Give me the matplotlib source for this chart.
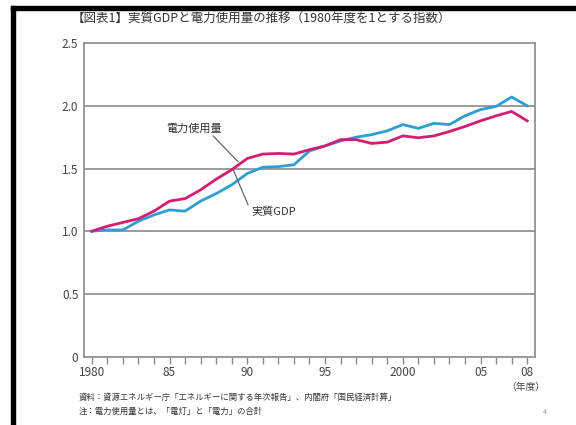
import matplotlib
matplotlib.use("Agg")
import matplotlib.pyplot as plt
from matplotlib.patches import Rectangle

plt.rcParams['font.family'] = ['Noto Sans CJK JP', 'DejaVu Sans']

years = list(range(1980, 2009))
power = [1.00, 1.04, 1.07, 1.10, 1.16, 1.24, 1.26, 1.33, 1.415, 1.49,
         1.58, 1.615, 1.62, 1.615, 1.65, 1.68, 1.73, 1.73, 1.70, 1.71,
         1.76, 1.745, 1.76, 1.795, 1.835, 1.88, 1.92, 1.955, 1.88]
gdp = [1.00, 1.01, 1.01, 1.08, 1.13, 1.17, 1.16, 1.24, 1.30, 1.37,
       1.46, 1.51, 1.515, 1.53, 1.64, 1.68, 1.72, 1.75, 1.77, 1.80,
       1.85, 1.82, 1.86, 1.85, 1.92, 1.97, 1.995, 2.07, 2.00]
xtick_pos = [1980, 1985, 1990, 1995, 2000, 2005, 2008]
xtick_labels = ["1980", "85", "90", "95", "2000", "05", "08"]
ytick_pos = [0, 0.5, 1.0, 1.5, 2.0, 2.5]
ytick_labels = ["0", "0.5", "1.0", "1.5", "2.0", "2.5"]

fig = plt.figure(figsize=(5.76, 4.25), dpi=100)
ax = fig.add_axes([0.1458, 0.1607, 0.783, 0.738])

gray = "#8a8a8a"
for y in ytick_pos[1:-1]:
    ax.axhline(y, color=gray, lw=1.2, zorder=1)

ax.plot(years, power, color="#d81b72", lw=2.0, zorder=3)
ax.plot(years, gdp, color="#2a9fd6", lw=2.0, zorder=2)

ax.set_xlim(1979.5, 2008.5)
ax.set_ylim(0, 2.5)
ax.set_xticks(years, minor=True)
ax.set_xticks(xtick_pos)
ax.set_xticklabels(xtick_labels)
ax.set_yticks(ytick_pos)
ax.set_yticklabels(ytick_labels)
ax.tick_params(axis='x', which='both', direction='out', length=5, width=1,
               color=gray, labelsize=8.5, labelcolor="#444444", pad=2)
ax.tick_params(axis='y', length=0, labelsize=8.5, labelcolor="#444444", pad=4)
for s in ax.spines.values():
    s.set_color(gray)
    s.set_linewidth(1.2)

# 系列ラベルと引き出し線
ax.text(1986.6, 1.82, "電力使用量", fontsize=8, color="#333333",
        ha="center", va="center")
ax.annotate("", xy=(1989.4, 1.555), xytext=(1987.8, 1.76),
            arrowprops=dict(arrowstyle="-", color="#666666", lw=0.9,
                            shrinkA=0, shrinkB=0))
ax.text(1991.7, 1.155, "実質GDP", fontsize=8, color="#333333",
        ha="center", va="center")
ax.annotate("", xy=(1989.1, 1.49), xytext=(1990.05, 1.21),
            arrowprops=dict(arrowstyle="-", color="#666666", lw=0.9,
                            shrinkA=0, shrinkB=0))

fig.text(0.125, 0.955, "【図表1】実質GDPと電力使用量の推移（1980年度を1とする指数）",
         fontsize=9, color="#333333", ha="left", va="center")
fig.text(0.912, 0.090, "（年度）", fontsize=7, color="#444444", ha="center", va="center")
fig.text(0.137, 0.065, "資料：資源エネルギー庁「エネルギーに関する年次報告」、内閣府「国民経済計算」",
         fontsize=6, color="#333333", ha="left", va="center")
fig.text(0.137, 0.033, "注：電力使用量とは、「電灯」と「電力」の合計",
         fontsize=6, color="#333333", ha="left", va="center")
fig.text(0.945, 0.03, "4", fontsize=5, color="#999999", ha="center", va="center")

# 外枠
fig.patches.append(Rectangle((11 / 576, 0), 4 / 576, 1 - 6 / 425,
                             transform=fig.transFigure, color="black", zorder=10))
fig.patches.append(Rectangle((11 / 576, 1 - 10 / 425), 1 - 11 / 576, 4 / 425,
                             transform=fig.transFigure, color="black", zorder=10))

fig.savefig("out.png", dpi=100)
